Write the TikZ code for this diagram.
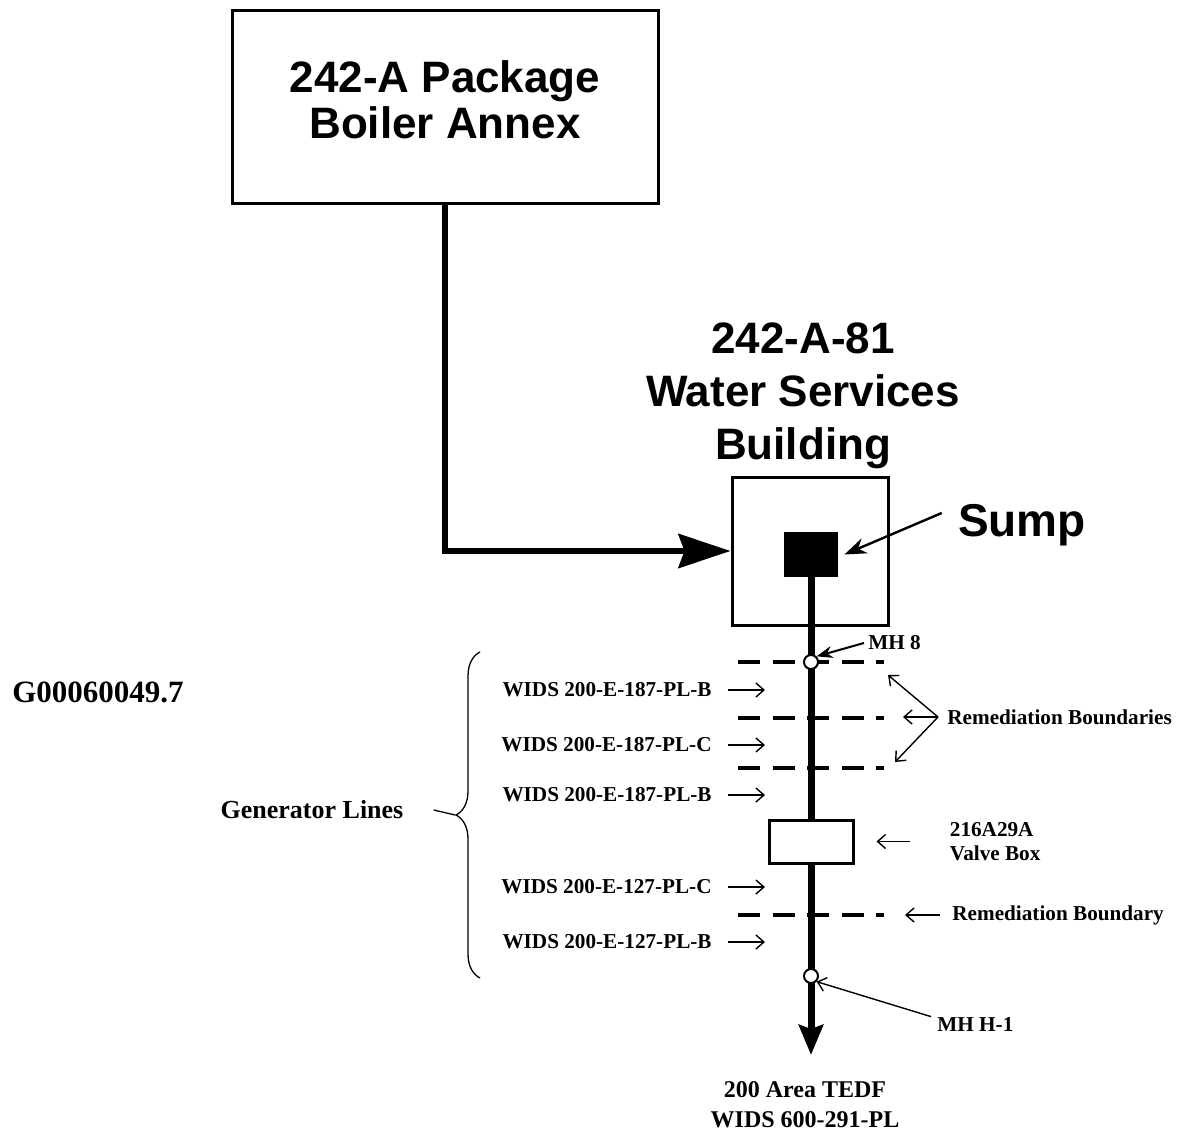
\documentclass[tikz,border=0pt]{standalone}
\usepackage{fontspec}
\setmainfont{Liberation Serif}
\newfontfamily\headfont{Liberation Sans}
\usepackage{tikz}
\usetikzlibrary{arrows.meta,positioning,decorations.pathreplacing}
\definecolor{ink}{HTML}{000000}
\tikzset{
  bldg/.style={rectangle, draw=ink, line width=1.5pt, fill=white, inner sep=0pt},
  head/.style={font=\headfont\bfseries\fontsize{22}{23}\selectfont, align=center, text=ink, inner sep=0pt},
  lbl/.style={font=\bfseries\fontsize{10.6}{12}\selectfont, text=ink, inner sep=0pt},
  pipe/.style={draw=ink, line width=3.5pt},
  feed/.style={draw=ink, line width=3pt, -{Stealth[length=26pt,width=17pt,inset=3pt]}},
  ptr/.style={draw=ink, line width=0.7pt, -{Straight Barb[length=4pt,width=7pt]}},
  pin/.style={draw=ink, line width=1pt, -{Stealth[length=8pt,width=6pt]}},
  bound/.style={draw=ink, line width=1.6pt, dash pattern=on 11pt off 6.25pt},
  mh/.style={circle, draw=ink, fill=white, line width=1pt, inner sep=0pt, minimum size=7pt},
  brc/.style={draw=ink, line width=0.65pt, decorate, decoration={brace, amplitude=12pt}}
}

\begin{document}
\begin{tikzpicture}[x=0.5pt, y=-0.5pt]
  \useasboundingbox (0,0) rectangle (1180,1135);
  \node[bldg, minimum width=213pt, minimum height=96.5pt] (boiler) at (445,106.5) {};
  \node[head] (boilertxt) at (445,100) {242-A Package\\Boiler Annex};
  \node[bldg, minimum width=78pt, minimum height=74pt] (wsb) at (810,551) {};
  \node[head, font=\headfont\bfseries\fontsize{22}{26.5}\selectfont] (wsbhead) at (803,396) {242-A-81\\Water Services\\Building};
  \node[fill=ink, minimum width=27pt, minimum height=22.5pt, inner sep=0pt] (sump) at (811,554.5) {};
  \node[head, font=\headfont\bfseries\fontsize{23}{26}\selectfont] (sumplbl) at (1022,525) {Sump};
  \node[bldg, minimum width=42pt, minimum height=21.5pt] (valve) at (811,841.5) {};
  \coordinate (out) at (811,1055);

  \draw[feed] (boiler.south) |- (wsb.west);
  \draw[pin, line width=1.2pt, -{Stealth[length=11pt,width=8pt]}] ([xshift=-8pt,yshift=6pt]sumplbl.west) -- ([xshift=3pt]sump.east);
  \draw[pipe] (sump.south) -- (valve.north);
  \draw[pipe, -{Stealth[length=15pt,width=12pt,inset=2pt]}] (valve.south) -- (out);

  % remediation boundaries
  \foreach \n/\y in {1/662,2/718,3/768,4/915} {
    \coordinate (rb\n) at (884,\y);
    \draw[bound] (738,\y) -- (rb\n);
  }
  \node[mh] (mh8) at (811,662) {};
  \node[mh] (mh1) at (811,976) {};

  \node[lbl, anchor=west] (mh8lbl) at (868,643) {MH 8};
  \draw[pin] ([xshift=-2pt]mh8lbl.west) -- (mh8.north east);
  \node[lbl, anchor=west] (rbs) at (947,717) {Remediation Boundaries};
  \coordinate (t1) at (888,675);
  \coordinate (t2) at (903,717);
  \coordinate (t3) at (895,762);
  \foreach \t in {t1,t2,t3}
     \draw[ptr] ([xshift=-4.5pt]rbs.west) -- (\t);
  \node[lbl, anchor=west] (rb) at (952,915) {Remediation Boundary};
  \draw[ptr] ([xshift=-6pt]rb.west) -- ([xshift=10.5pt]rb4);

  \node[lbl, align=left, anchor=west, right=47.5pt of valve] (vlbl) {216A29A\\Valve Box};
  \draw[ptr] ([xshift=-20pt]vlbl.west) -- ([xshift=11pt]valve.east);
  \node[lbl, anchor=west] (mh1lbl) at (937,1024) {MH H-1};
  \draw[ptr] ([xshift=-3pt]mh1lbl.north west) -- (mh1.south east);

  \node[lbl, align=center, font=\bfseries\fontsize{12}{15}\selectfont] (tedf) at (805,1105) {200 Area TEDF\\WIDS 600-291-PL};

  % generator lines
  \foreach \n/\y/\t in {1/690/187-PL-B,2/745/187-PL-C,3/795/187-PL-B,4/887/127-PL-C,5/942/127-PL-B} {
    \node[lbl, anchor=east] (w\n) at (712,\y) {WIDS 200-E-\t};
    \draw[ptr] ([xshift=8pt]w\n.east) -- ([xshift=26.5pt]w\n.east);
  }
  \draw[brc] (480,978) -- (480,652);
  \coordinate (gtip) at (455,815);
  \node[lbl, font=\bfseries\fontsize{13}{15}\selectfont] (gen) at (312,810) {Generator Lines};
  \draw[draw=ink, line width=0.65pt] ([xshift=15pt]gen.east) -- (gtip);

  \node[lbl, font=\bfseries\fontsize{15.5}{18}\selectfont] (gid) at (98,692) {G00060049.7};
\end{tikzpicture}
\end{document}
